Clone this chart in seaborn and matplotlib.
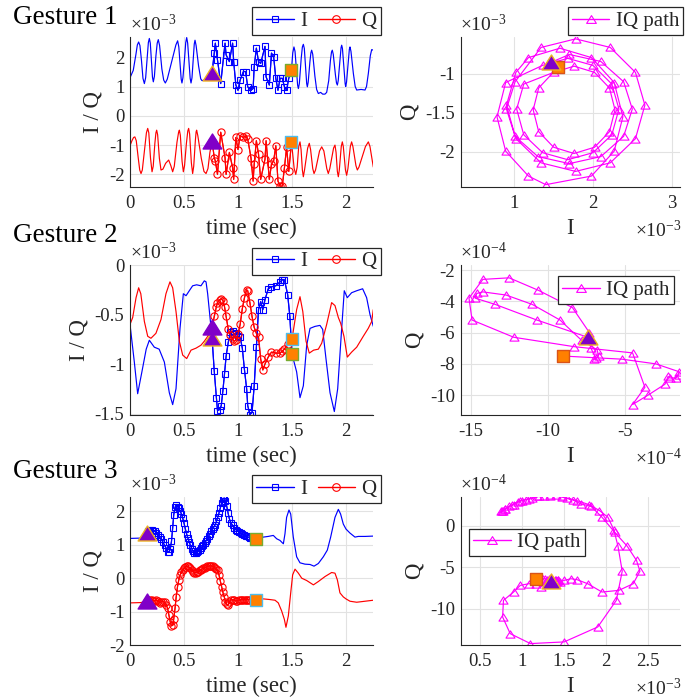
import matplotlib
matplotlib.use("Agg")
import matplotlib.pyplot as plt
import seaborn as sns
from matplotlib.lines import Line2D
from matplotlib.path import Path

# ---------------- Gesture 1 (I/Q in units of 1e-3) ----------------
g1_ti_pre = [0.000, 0.030, 0.055, 0.068, 0.080, 0.092, 0.106, 0.120, 0.133, 0.145, 0.160, 0.170, 0.179,
             0.188, 0.200, 0.208, 0.216, 0.226, 0.240, 0.252, 0.262, 0.274, 0.295, 0.312, 0.327, 0.345,
             0.390, 0.425, 0.441, 0.452, 0.467, 0.474, 0.481, 0.490, 0.505, 0.516, 0.525, 0.534, 0.548,
             0.557, 0.565, 0.574, 0.586, 0.595, 0.602, 0.612, 0.635, 0.655, 0.667, 0.690, 0.715, 0.740]
g1_i_pre = [1.30, 1.55, 2.10, 2.42, 2.52, 2.40, 1.90, 1.28, 1.10, 1.30, 2.05, 2.50, 2.64,
            2.48, 1.80, 1.32, 1.16, 1.35, 2.05, 2.48, 2.60, 2.40, 1.60, 1.22, 1.12, 1.25,
            1.90, 2.42, 2.56, 2.35, 1.60, 1.25, 1.12, 1.30, 1.95, 2.50, 2.67, 2.48, 1.75,
            1.28, 1.12, 1.30, 1.95, 2.45, 2.58, 2.40, 1.70, 1.26, 1.20, 1.22, 1.30, 1.40]
g1_tq_pre = [0.000, 0.018, 0.033, 0.045, 0.058, 0.075, 0.090, 0.102, 0.114, 0.133, 0.152, 0.164, 0.174,
             0.190, 0.204, 0.215, 0.230, 0.240, 0.247, 0.256, 0.272, 0.287, 0.305, 0.330, 0.358, 0.378,
             0.395, 0.410, 0.435, 0.450, 0.457, 0.466, 0.482, 0.494, 0.505, 0.522, 0.535, 0.543, 0.552,
             0.568, 0.580, 0.590, 0.605, 0.612, 0.617, 0.628, 0.660, 0.685, 0.704, 0.722, 0.740]
g1_q_pre = [-1.02, -0.85, -0.74, -0.72, -0.85, -1.40, -1.85, -1.97, -1.85, -1.20, -0.58, -0.43, -0.58,
            -1.45, -1.91, -1.72, -0.95, -0.58, -0.49, -0.65, -1.45, -1.85, -1.82, -1.62, -1.51, -1.70,
            -1.91, -1.72, -0.90, -0.56, -0.49, -0.66, -1.55, -1.91, -1.70, -0.95, -0.52, -0.43, -0.62,
            -1.60, -1.97, -1.72, -0.85, -0.55, -0.49, -0.68, -1.45, -1.90, -1.97, -1.80, -1.25]
g1_t_seg = [0.76, 0.78, 0.79, 0.81, 0.84, 0.88, 0.89, 0.92, 0.95, 0.96, 0.98, 1.00, 1.02, 1.05, 1.07,
            1.09, 1.12, 1.14, 1.15, 1.17, 1.19, 1.21, 1.25, 1.26, 1.29, 1.31, 1.33, 1.35, 1.37, 1.39,
            1.41, 1.43, 1.45, 1.47, 1.495]
g1_i_seg = [1.47, 2.14, 2.48, 1.91, 1.10, 2.48, 2.08, 1.85, 2.48, 1.85, 1.05, 0.87, 1.22, 1.51, 1.51,
            0.99, 0.87, 0.93, 1.68, 2.31, 1.85, 1.79, 2.37, 1.33, 1.05, 2.14, 2.02, 1.28, 0.87, 1.28,
            1.28, 0.99, 0.87, 1.28, 1.56]
g1_q_seg = [-0.85, -1.43, -1.54, -2.00, -0.56, -1.43, -2.00, -1.25, -1.77, -2.17, -0.74, -1.15, -0.68,
            -0.74, -0.68, -0.79, -1.43, -2.23, -1.65, -0.85, -1.31, -2.17, -1.48, -0.85, -2.17, -1.65,
            -1.54, -1.02, -2.23, -2.40, -2.40, -1.77, -1.08, -1.90, -0.91]
g1_ti_post = [1.507, 1.518, 1.528, 1.545, 1.552, 1.559, 1.568, 1.585, 1.596, 1.605, 1.614, 1.630, 1.636,
              1.642, 1.650, 1.666, 1.675, 1.682, 1.692, 1.712, 1.728, 1.744, 1.765, 1.784, 1.805, 1.821,
              1.840, 1.856, 1.866, 1.873, 1.882, 1.902, 1.912, 1.920, 1.928, 1.945, 1.954, 1.960, 1.967,
              1.985, 1.992, 1.997, 2.005, 2.022, 2.031, 2.037, 2.046, 2.068, 2.085, 2.099, 2.140, 2.176,
              2.190, 2.207, 2.225, 2.238, 2.253]
g1_i_post = [2.15, 2.35, 2.20, 1.35, 1.05, 0.93, 1.10, 1.95, 2.35, 2.44, 2.30, 1.40, 1.10,
             0.99, 1.15, 1.85, 2.15, 2.24, 2.10, 1.35, 0.90, 0.76, 0.80, 0.74, 0.74, 0.80,
             1.20, 1.90, 2.18, 2.24, 2.10, 1.40, 1.12, 1.05, 1.20, 1.95, 2.32, 2.41, 2.30,
             1.40, 1.10, 1.00, 1.15, 1.90, 2.27, 2.35, 2.20, 1.45, 1.00, 0.88, 0.90, 0.88,
             1.00, 1.45, 2.05, 2.26, 2.24]
g1_tq_post = [1.505, 1.520, 1.535, 1.548, 1.562, 1.574, 1.584, 1.596, 1.605, 1.616, 1.645, 1.660, 1.672,
              1.692, 1.704, 1.718, 1.755, 1.775, 1.795, 1.822, 1.836, 1.850, 1.885, 1.898, 1.908, 1.920,
              1.929, 1.938, 1.956, 1.966, 1.975, 1.995, 2.006, 2.018, 2.040, 2.052, 2.064, 2.092, 2.105,
              2.120, 2.180, 2.207, 2.222, 2.240, 2.253]
g1_q_post = [-1.25, -1.80, -2.00, -1.75, -1.05, -0.89, -1.15, -1.85, -2.08, -1.85, -1.10, -0.94, -1.15,
             -1.80, -1.97, -1.85, -1.20, -1.06, -1.20, -1.80, -1.97, -1.80, -1.10, -1.00, -1.25, -1.90,
             -2.08, -1.85, -1.05, -0.89, -1.05, -1.85, -2.03, -1.80, -1.05, -0.89, -1.05, -1.70, -1.85,
             -1.75, -1.05, -0.89, -1.05, -1.45, -1.75]
# IQ trajectory of gesture 1 (both axes in 1e-3)
g1_iq_i = [1.47, 1.70, 2.10, 2.39, 2.50, 2.39, 2.10, 1.70, 1.30, 1.01, 0.90, 1.01,
           1.34, 1.78, 2.22, 2.54, 2.66, 2.54, 2.22, 1.78, 1.34, 1.02, 0.90, 1.02,
           1.18, 1.58, 1.98, 2.27, 2.38, 2.27, 1.98, 1.40, 1.18, 0.89, 0.78, 0.89,
           1.36, 1.68, 2.00, 2.24, 2.33, 2.24, 2.00, 1.68, 1.36, 1.12, 1.03, 1.12,
           1.50, 1.76, 2.02, 2.21, 2.28, 2.21, 2.02, 1.76, 1.50, 1.31, 1.24, 1.31, 1.56]
g1_iq_q = [-0.85, -0.75, -0.84, -1.10, -1.45, -1.80, -2.06, -2.15, -2.06, -1.80, -1.45, -1.10,
           -0.66, -0.55, -0.66, -0.98, -1.40, -1.83, -2.14, -2.25, -2.14, -1.83, -1.40, -0.98,
           -0.79, -0.67, -0.79, -1.11, -1.55, -1.99, -2.31, -2.42, -2.31, -1.99, -1.55, -1.11,
           -0.89, -0.80, -0.89, -1.13, -1.45, -1.78, -2.01, -2.10, -2.01, -1.78, -1.45, -1.13,
           -0.98, -0.90, -0.98, -1.18, -1.46, -1.74, -1.94, -2.02, -1.94, -1.74, -1.46, -1.18, -0.91]

# ---------------- Gesture 2 (I/Q in units of 1e-3) ----------------
g2_ti_pre = [0.00, 0.04, 0.071, 0.11, 0.15, 0.179, 0.225, 0.27, 0.318, 0.364, 0.395, 0.426, 0.463,
             0.494, 0.519, 0.549, 0.58, 0.617, 0.657, 0.688, 0.704, 0.719]
g2_i_pre = [-0.60, -0.98, -1.30, -1.08, -0.85, -0.76, -0.83, -0.85, -0.98, -1.29, -1.41, -1.25, -0.64,
            -0.29, -0.31, -0.26, -0.21, -0.20, -0.21, -0.16, -0.17, -0.29]
g2_tq_pre = [0.00, 0.025, 0.056, 0.08, 0.10, 0.133, 0.164, 0.194, 0.24, 0.287, 0.333, 0.37, 0.395,
             0.426, 0.457, 0.488, 0.525, 0.565, 0.611, 0.657, 0.688, 0.72]
g2_q_pre = [-0.60, -0.53, -0.33, -0.23, -0.29, -0.57, -0.72, -0.74, -0.69, -0.55, -0.29, -0.17, -0.23,
            -0.47, -0.77, -0.91, -0.945, -0.86, -0.84, -0.81, -0.77, -0.72]
g2_t_seg = [0.76, 0.78, 0.80, 0.81, 0.83, 0.845, 0.86, 0.875, 0.89, 0.91, 0.93, 0.95, 0.965, 0.98,
            1.00, 1.02, 1.04, 1.06, 1.08, 1.09, 1.11, 1.13, 1.15, 1.17, 1.19, 1.21, 1.23, 1.25, 1.28,
            1.31, 1.35, 1.39, 1.41, 1.43, 1.46, 1.48, 1.50]
g2_i_seg = [-0.74, -1.07, -1.34, -1.47, -1.46, -1.42, -1.27, -1.10, -0.92, -0.78, -0.68, -0.67, -0.70,
            -0.69, -0.72, -0.73, -0.84, -1.06, -1.25, -1.42, -1.51, -1.49, -1.22, -0.83, -0.45, -0.37,
            -0.45, -0.35, -0.24, -0.22, -0.21, -0.17, -0.15, -0.15, -0.30, -0.52, -0.90]
g2_q_seg = [-0.63, -0.52, -0.42, -0.38, -0.35, -0.34, -0.36, -0.42, -0.52, -0.65, -0.71, -0.75, -0.77,
            -0.76, -0.70, -0.60, -0.44, -0.33, -0.25, -0.26, -0.38, -0.52, -0.63, -0.69, -0.73, -0.95,
            -1.06, -1.00, -0.93, -0.88, -0.89, -0.89, -0.87, -0.85, -0.80, -0.77, -0.75]
g2_ti_post = [1.543, 1.574, 1.605, 1.636, 1.667, 1.713, 1.759, 1.784, 1.815, 1.852, 1.892, 1.923,
              1.960, 1.984, 2.012, 2.052, 2.099, 2.154, 2.191, 2.222, 2.253]
g2_i_post = [-1.08, -1.34, -1.22, -0.81, -0.64, -0.62, -0.61, -0.65, -0.95, -1.29, -1.48, -1.25, -0.64,
             -0.26, -0.33, -0.28, -0.26, -0.24, -0.33, -0.50, -0.62]
g2_tq_post = [1.543, 1.574, 1.60, 1.63, 1.66, 1.70, 1.744, 1.775, 1.821, 1.867, 1.898, 1.929, 1.951,
              1.981, 2.012, 2.052, 2.099, 2.16, 2.206, 2.238, 2.253]
g2_q_post = [-0.45, -0.32, -0.47, -0.77, -0.89, -0.86, -0.85, -0.79, -0.60, -0.38, -0.41, -0.53, -0.59,
             -0.72, -0.93, -0.88, -0.83, -0.72, -0.64, -0.57, -0.45]

# ---------------- Gesture 3 (I/Q in units of 1e-3) ----------------
g3_ti_pre = [0.00, 0.10, 0.13]
g3_i_pre = [1.19, 1.20, 1.24]
g3_tq_pre = [0.00, 0.10, 0.13]
g3_q_pre = [-0.74, -0.73, -0.71]
g3_t_seg = [0.154, 0.170, 0.185, 0.200, 0.215, 0.230, 0.245, 0.260, 0.275, 0.290, 0.305, 0.320, 0.335,
            0.348, 0.360, 0.372, 0.384, 0.395, 0.405, 0.417, 0.428, 0.440, 0.452, 0.464, 0.476, 0.488,
            0.500, 0.512, 0.524, 0.536, 0.548, 0.560, 0.572, 0.584, 0.596, 0.608, 0.620, 0.632, 0.644,
            0.656, 0.668, 0.680, 0.692, 0.704, 0.716, 0.728, 0.740, 0.752, 0.764, 0.776, 0.788, 0.800,
            0.812, 0.824, 0.836, 0.848, 0.860, 0.872, 0.884, 0.896, 0.908, 0.920, 0.935, 0.950, 0.965,
            0.980, 0.995, 1.010, 1.025, 1.040, 1.055, 1.070, 1.085, 1.100, 1.115, 1.130, 1.150, 1.170]
g3_i_seg = [1.34, 1.40, 1.43, 1.43, 1.42, 1.40, 1.36, 1.30, 1.22, 1.17, 1.08, 0.98, 0.90, 0.78, 0.77,
            0.86, 1.10, 1.50, 1.90, 2.12, 2.19, 2.14, 2.09, 2.02, 1.92, 1.80, 1.65, 1.48, 1.33, 1.20,
            1.08, 0.98, 0.88, 0.80, 0.76, 0.75, 0.77, 0.80, 0.85, 0.90, 0.95, 1.00, 1.05, 1.12, 1.18,
            1.26, 1.33, 1.40, 1.47, 1.53, 1.60, 1.70, 1.82, 1.95, 2.10, 2.25, 2.36, 2.40, 2.32, 2.15,
            1.95, 1.78, 1.65, 1.58, 1.50, 1.45, 1.42, 1.39, 1.35, 1.32, 1.30, 1.27, 1.25, 1.22, 1.20,
            1.19, 1.18, 1.17]
g3_q_seg = [-0.67, -0.66, -0.65, -0.66, -0.67, -0.68, -0.66, -0.67, -0.74, -0.70, -0.70, -0.72, -0.80,
            -0.90, -1.10, -1.30, -1.42, -1.40, -1.22, -0.90, -0.55, -0.25, -0.05, 0.10, 0.18, 0.25,
            0.30, 0.34, 0.36, 0.35, 0.32, 0.30, 0.25, 0.20, 0.17, 0.17, 0.18, 0.20, 0.23, 0.25, 0.28,
            0.30, 0.31, 0.33, 0.35, 0.36, 0.37, 0.37, 0.36, 0.33, 0.31, 0.26, 0.23, 0.10, -0.08, -0.25,
            -0.42, -0.55, -0.70, -0.78, -0.80, -0.70, -0.65, -0.64, -0.66, -0.68, -0.67, -0.66, -0.65,
            -0.64, -0.65, -0.64, -0.64, -0.64, -0.64, -0.64, -0.64, -0.64]
g3_ti_post = [1.235, 1.28, 1.327, 1.358, 1.389, 1.404, 1.42, 1.435, 1.45, 1.472, 1.488, 1.512, 1.543,
              1.574, 1.62, 1.667, 1.704, 1.744, 1.79, 1.827, 1.858, 1.898, 1.929, 1.95, 1.975, 2.0,
              2.037, 2.083, 2.114, 2.176, 2.253]
g3_i_post = [1.23, 1.25, 1.28, 1.18, 1.13, 1.08, 1.03, 1.33, 1.82, 2.04, 1.92, 1.23, 0.64, 0.46, 0.42,
             0.41, 0.36, 0.44, 0.64, 0.84, 1.23, 1.82, 2.06, 1.92, 1.62, 1.47, 1.35, 1.23, 1.25, 1.25,
             1.26]
g3_tq_post = [1.235, 1.297, 1.343, 1.373, 1.404, 1.429, 1.444, 1.466, 1.488, 1.506, 1.528, 1.559, 1.59,
              1.636, 1.698, 1.744, 1.806, 1.867, 1.898, 1.92, 1.944, 1.975, 2.0, 2.037, 2.099, 2.176,
              2.253]
g3_q_post = [-0.62, -0.64, -0.66, -0.74, -0.98, -1.23, -1.47, -1.13, -0.44, 0.10, 0.27, 0.15, 0.0,
             -0.07, -0.20, -0.10, 0.05, 0.17, 0.15, -0.05, -0.44, -0.56, -0.62, -0.69, -0.72, -0.69,
             -0.66]

# ---------------- axis settings ----------------
gesture_titles = ["Gesture 1", "Gesture 2", "Gesture 3"]
time_ticks = [0, 0.5, 1, 1.5, 2]
left_yticks = [[-2, -1, 0, 1, 2], [-1.5, -1, -0.5, 0], [-2, -1, 0, 1, 2]]
left_ylims = [(-2.43, 2.69), (-1.515, 0.0), (-2.0, 2.43)]
right_xticks = [[1, 2, 3], [-15, -10, -5], [0.5, 1, 1.5, 2, 2.5]]
right_yticks = [[-2, -1.5, -1], [-10, -8, -6, -4, -2], [-10, -5, 0]]
right_xlims = [(0.316, 3.10), (-15.65, -1.46), (0.27, 2.87)]
right_ylims = [(-2.45, -0.526), (-11.27, -1.68), (-14.37, 3.43)]
right_xexp = ["-3", "-4", "-3"]
right_yexp = ["-3", "-4", "-4"]

BLUE, RED, MAGENTA = "#0000FF", "#FF0000", "#FF00FF"
PURPLE, ORANGE = "#8000C8", "#FF8000"
GOLD, GREEN, SKY, RUST = "#EDB120", "#77AC30", "#4DBEEE", "#D95319"
INK = "#262626"
LW = 0.85
TRI = Path([(-1, -0.8), (1, -0.8), (0, 0.8), (-1, -0.8)],
           [Path.MOVETO, Path.LINETO, Path.LINETO, Path.CLOSEPOLY])

sns.set_theme(style="white")
plt.rcParams.update({
    "font.family": ["Liberation Serif", "DejaVu Serif"],
    "mathtext.fontset": "custom",
    "mathtext.rm": "Liberation Serif",
    "mathtext.it": "Liberation Serif:italic",
    "mathtext.bf": "Liberation Serif:bold",
    "axes.unicode_minus": False,
    "text.color": INK,
    "axes.labelcolor": INK,
})


def fmt(v):
    return f"{v:g}"


def style_axes(ax, xlim, ylim, xticks, yticks):
    ax.set_xlim(*xlim)
    ax.set_ylim(*ylim)
    ax.set_xticks(xticks, [fmt(v) for v in xticks])
    ax.set_yticks(yticks, [fmt(v) for v in yticks])
    ax.grid(True, color="#e2e2e2", lw=0.8)
    ax.set_axisbelow(True)
    sns.despine(ax=ax)
    for side in ("left", "bottom"):
        ax.spines[side].set_color(INK)
        ax.spines[side].set_linewidth(0.8)
    ax.tick_params(direction="in", length=3, width=0.8, color=INK, labelcolor=INK,
                   labelsize=13.5)
    ax.tick_params(axis="x", pad=6)
    ax.tick_params(axis="y", pad=4)


def exp_label(ax, power, x, y, ha, va):
    ax.text(x, y, r"$\times\mathregular{10^{%s}}$" % power, transform=ax.transAxes,
            ha=ha, va=va, fontsize=14, color=INK)


def big_marker(ax, x, y, shape, face, edge, size):
    sns.scatterplot(x=[x], y=[y], ax=ax, marker=shape, s=size ** 2, color=face,
                    edgecolor=edge, linewidth=1.0, zorder=6, legend=False)


def time_panel(ax, ti_pre, i_pre, tq_pre, q_pre, t_seg, i_seg, q_seg,
               ti_post, i_post, tq_post, q_post):
    t_i = ti_pre + t_seg + ti_post
    v_i = i_pre + i_seg + i_post
    t_q = tq_pre + t_seg + tq_post
    v_q = q_pre + q_seg + q_post
    sns.lineplot(x=t_i, y=v_i, ax=ax, color=BLUE, lw=LW, estimator=None, sort=False)
    sns.lineplot(x=t_q, y=v_q, ax=ax, color=RED, lw=LW, estimator=None, sort=False)
    sns.lineplot(x=t_seg, y=i_seg, ax=ax, color=BLUE, lw=LW, marker="s", markersize=4.8,
                 markerfacecolor="none", markeredgecolor=BLUE, markeredgewidth=0.8,
                 estimator=None, sort=False)
    sns.lineplot(x=t_seg, y=q_seg, ax=ax, color=RED, lw=LW, marker="o", markersize=5.2,
                 markerfacecolor="none", markeredgecolor=RED, markeredgewidth=0.8,
                 estimator=None, sort=False)
    big_marker(ax, t_seg[0], i_seg[0], TRI, PURPLE, GOLD, 13.5)
    big_marker(ax, t_seg[0], q_seg[0], TRI, PURPLE, PURPLE, 13.5)
    big_marker(ax, t_seg[-1], i_seg[-1], "s", ORANGE, GREEN, 8.5)
    big_marker(ax, t_seg[-1], q_seg[-1], "s", ORANGE, SKY, 8.5)


def iq_panel(ax, iq_i, iq_q):
    sns.lineplot(x=iq_i, y=iq_q, ax=ax, color=MAGENTA, lw=LW, marker=TRI, markersize=6.5,
                 markerfacecolor="none", markeredgecolor=MAGENTA, markeredgewidth=0.8,
                 estimator=None, sort=False)
    big_marker(ax, iq_i[-1], iq_q[-1], "s", ORANGE, RUST, 9.0)
    big_marker(ax, iq_i[0], iq_q[0], TRI, PURPLE, GOLD, 13.5)


W, H = 697, 698
fig = plt.figure(figsize=(W / 100, H / 100), dpi=100)
row_px = [(37, 187), (265, 415), (497, 645)]
title_y = [17, 236, 472]
left_leg_y = [21, 261.5, 489]
right_leg = [(625.5, 21), (616, 290), (527, 542.5)]

gestures = [
    (g1_ti_pre, g1_i_pre, g1_tq_pre, g1_q_pre, g1_t_seg, g1_i_seg, g1_q_seg,
     g1_ti_post, g1_i_post, g1_tq_post, g1_q_post),
    (g2_ti_pre, g2_i_pre, g2_tq_pre, g2_q_pre, g2_t_seg, g2_i_seg, g2_q_seg,
     g2_ti_post, g2_i_post, g2_tq_post, g2_q_post),
    (g3_ti_pre, g3_i_pre, g3_tq_pre, g3_q_pre, g3_t_seg, g3_i_seg, g3_q_seg,
     g3_ti_post, g3_i_post, g3_tq_post, g3_q_post),
]
# IQ trajectories: gesture 1 traced separately, gestures 2 and 3 from the marked segment
iq_paths = [
    (g1_iq_i, g1_iq_q),
    ([v * 10 for v in g2_i_seg], [v * 10 for v in g2_q_seg]),
    (g3_i_seg, [v * 10 for v in g3_q_seg]),
]

leg_i = Line2D([], [], color=BLUE, lw=1.0, marker="s", markersize=5, markerfacecolor="none",
               markeredgecolor=BLUE, markeredgewidth=0.8)
leg_q = Line2D([], [], color=RED, lw=1.0, marker="o", markersize=5.5, markerfacecolor="none",
               markeredgecolor=RED, markeredgewidth=0.8)
leg_iq = Line2D([], [], color=MAGENTA, lw=1.0, marker=TRI, markersize=7, markerfacecolor="none",
                markeredgecolor=MAGENTA, markeredgewidth=0.8)
leg_kw = dict(loc="center", bbox_transform=fig.transFigure, fontsize=15, frameon=True,
              fancybox=False, framealpha=1, edgecolor=INK, handlelength=1.8,
              handletextpad=0.3, columnspacing=0.5, borderpad=0.2, borderaxespad=0)

for r in range(3):
    top, bot = row_px[r]
    axl = fig.add_axes([130 / W, 1 - bot / H, 243 / W, (bot - top) / H])
    axr = fig.add_axes([460.5 / W, 1 - bot / H, 219 / W, (bot - top) / H])

    time_panel(axl, *gestures[r])
    style_axes(axl, (0, 2.25), left_ylims[r], time_ticks, left_yticks[r])
    axl.set_xlabel("time (sec)", fontsize=16.5, labelpad=4)
    axl.set_ylabel("I / Q", fontsize=16.5, labelpad=4)
    exp_label(axl, "-3", 0.0, 1.01, "left", "bottom")
    lg = axl.legend([leg_i, leg_q], ["I", "Q"], ncol=2,
                    bbox_to_anchor=(316.5 / W, 1 - left_leg_y[r] / H), **leg_kw)
    lg.get_frame().set_linewidth(0.9)

    iq_panel(axr, *iq_paths[r])
    style_axes(axr, right_xlims[r], right_ylims[r], right_xticks[r], right_yticks[r])
    axr.set_xlabel("I", fontsize=16.5, labelpad=4)
    axr.set_ylabel("Q", fontsize=16.5, labelpad=4)
    exp_label(axr, right_yexp[r], 0.0, 1.01, "left", "bottom")
    exp_label(axr, right_xexp[r], 1.01, -0.22, "right", "top")
    cx, cy = right_leg[r]
    lg = axr.legend([leg_iq], ["IQ path"], bbox_to_anchor=(cx / W, 1 - cy / H), **leg_kw)
    lg.get_frame().set_linewidth(0.9)

    fig.text(13 / W, 1 - title_y[r] / H, gesture_titles[r], fontsize=19.5, ha="left",
             va="center", color="black")

fig.savefig("out.png", dpi=100)
